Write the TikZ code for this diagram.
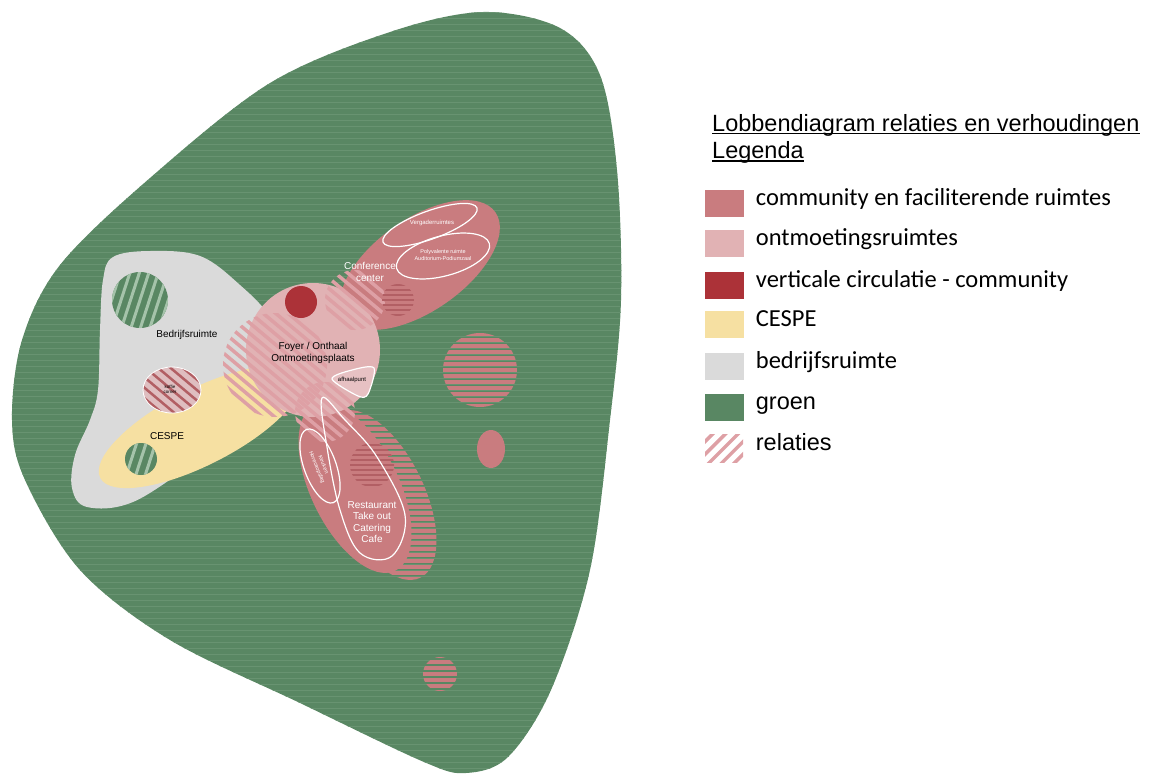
\documentclass[tikz,border=0pt]{standalone}
\usepackage{fontspec}
\setmainfont{Liberation Sans}
\newfontfamily\calibri{Carlito}
\usepackage{xcolor}
\usepackage{tikz}
\usetikzlibrary{positioning}

\definecolor{groen}{RGB}{89,135,99}
\definecolor{groenlicht}{RGB}{104,147,113}
\definecolor{groenstreep}{RGB}{165,195,170}
\definecolor{community}{RGB}{201,124,127}
\definecolor{communitydonker}{RGB}{178,95,100}
\definecolor{ontmoet}{RGB}{225,178,180}
\definecolor{vertcirc}{RGB}{172,50,56}
\definecolor{cespe}{RGB}{246,224,162}
\definecolor{bedrijf}{RGB}{218,218,218}
\definecolor{relatie}{RGB}{222,160,165}

\newcommand\groenvorm{plot[smooth cycle, tension=0.55] coordinates {(483,12) (560,28) (600,75) (617,170) (621,300) (610,420) (590,570) (551,690) (508,757) (466,773) (424,762) (300,703) (170,640) (80,570) (25,480) (12,420) (22,340) (60,265) (150,178) (270,83) (390,32)}}

% hatch: clip, centre, angle, line style, spacing
\newcommand\hatchfill[5]{%
  \begin{scope}
    #1
    \begin{scope}[shift={#2},rotate=#3]
      \foreach \k in {-15,...,15}
        \draw[#4] (-120,\k*#5) -- (120,\k*#5);
    \end{scope}
  \end{scope}}

\begin{document}
\begin{tikzpicture}[x=1pt,y=-1pt,
  wit/.style={draw=white, line width=1.2pt},
  rel/.style={relatie, line width=3.5pt},
  streep/.style={community, line width=3.5pt},
  donkerstreep/.style={communitydonker, line width=1.6pt},
  label/.style={align=center, inner sep=0pt, font=\fontsize{10}{11.5}\selectfont},
  klein/.style={align=center, inner sep=0pt, text=white, font=\fontsize{6}{7}\selectfont},
  swatch/.style={minimum width=39pt, minimum height=27pt, inner sep=0pt},
  kop/.style={anchor=base west, inner sep=0pt, font=\fontsize{23.5}{26}\selectfont},
  legtekst/.style={anchor=west, inner sep=0pt, text depth=0.25em, text height=0.75em, font=\calibri\fontsize{24.5}{27}\selectfont}]
\useasboundingbox (0,0) rectangle (1159,774);

% groen
\fill[groen] \groenvorm;
\begin{scope}
  \clip \groenvorm;
  \foreach \k in {0,...,129}
    \draw[groenlicht, line width=0.8pt] (0,\k*6) -- (680,\k*6);
\end{scope}

% bedrijfsruimte en CESPE
\fill[bedrijf] plot[smooth cycle, tension=0.6] coordinates {(113,257) (150,251) (200,256) (240,285) (272,320) (300,380) (280,415) (200,460) (133,502) (87,507) (72,488) (75,455) (90,420) (98,390) (100,330) (103,280)};
\fill[cespe, shift={(200,427)}, rotate=27] (0,0) ellipse [x radius=112, y radius=38];

\fill[groen] (140,300) circle [radius=28];
\hatchfill{\clip (140,300) circle [radius=28];}{(140,300)}{72}{groenstreep, line width=3pt}{9}
\fill[groen] (141,459) circle [radius=16];
\hatchfill{\clip (141,459) circle [radius=16];}{(141,459)}{72}{groenstreep, line width=3pt}{9}

\fill[ontmoet!70!bedrijf] (172,390) ellipse [x radius=29, y radius=23];
\hatchfill{\clip (172,390) ellipse [x radius=29, y radius=23];}{(172,390)}{-40}{communitydonker, line width=2.5pt}{8}
\draw[white, line width=0.8pt] (172,390) ellipse [x radius=29, y radius=23];

% lobben
\fill[community, shift={(420,265)}, rotate=35] (0,0) ellipse [x radius=92, y radius=46];
\hatchfill{\clip[shift={(380,495)}, rotate=-64] (0,0) ellipse [x radius=92, y radius=44];}{(380,495)}{0}{streep}{6}
\fill[community, shift={(355,488)}, rotate=-64] (0,0) ellipse [x radius=92, y radius=44];
\fill[ontmoet] (313,350) circle [radius=67];

% relaties
\hatchfill{\clip (275,365) circle [radius=52];}{(275,365)}{-40}{rel}{8}
\hatchfill{\clip (355,300) circle [radius=30];}{(355,300)}{-40}{rel}{8}
\hatchfill{\clip (325,412) circle [radius=30];}{(325,412)}{-40}{rel}{8}
\hatchfill{\clip (398,300) circle [radius=16];}{(398,300)}{0}{donkerstreep}{5}
\hatchfill{\clip (372,465) circle [radius=22];}{(372,465)}{0}{donkerstreep}{5}

\fill[vertcirc] (301,302) circle [radius=16];

% omlijningen
\draw[wit, shift={(430,225)}, rotate=20] (0,0) ellipse [x radius=50, y radius=14];
\draw[wit, shift={(443,256)}, rotate=15] (0,0) ellipse [x radius=48, y radius=20];
\draw[wit, shift={(320,466)}, rotate=-70] (0,0) ellipse [x radius=39, y radius=16];
\draw[wit] plot[smooth cycle, tension=0.6] coordinates {(322,398) (345,420) (377,457) (405,515) (392,556) (360,553) (340,510) (327,447)};
\draw[wit, fill=ontmoet!80!white] plot[smooth cycle, tension=0.5] coordinates {(332,379) (352,370) (374,368) (368,394) (358,396)};

% losse lobben in het groen
\hatchfill{\clip (480,370) circle [radius=37];}{(480,370)}{0}{streep}{6}
\fill[community] (491,449) ellipse [x radius=14, y radius=19];
\hatchfill{\clip (440,674) circle [radius=17];}{(440,674)}{0}{streep}{6}

% teksten
\node[label] (bedrijfsruimte) at (187,335) {Bedrijfsruimte};
\node[label] (cespe) at (167,436) {CESPE};
\node[label] (foyer) at (313,353) {Foyer / Onthaal\\Ontmoetingsplaats};
\node[label, text=white] (conference) at (370,272) {Conference\\center};
\node[label, text=white] (restaurant) at (372,522) {Restaurant\\Take out\\Catering\\Cafe};
\node[klein] (vergader) at (432,223) {Vergaderruimtes};
\node[klein, font=\fontsize{5.5}{6.5}\selectfont] (polyvalent) at (443,255) {Polyvalente ruimte\\Auditorium-Podiumzaal};
\node[klein, rotate=-68, font=\fontsize{5.5}{7}\selectfont] (horeca) at (320,466) {Keuken\\Horecaopslag};
\node[klein, text=black] (afhaal) at (352,380) {afhaalpunt};
\node[klein, text=black, font=\fontsize{4.5}{5}\selectfont] (koffie) at (170,389) {koffie\\corner};

% legenda
\node[kop] (titel) at (712,131) {Lobbendiagram relaties en verhoudingen};
\node[kop] (legenda) at (712,158) {Legenda};
\draw[line width=1.2pt] ([yshift=-2.5pt]titel.base west) -- ([yshift=-2.5pt]titel.base east);
\draw[line width=1.2pt] ([yshift=-3pt]legenda.base west) -- ([yshift=-3pt]legenda.base east);

\node[swatch, fill=community] (sw1) at (724,203) {};
\node[swatch, fill=ontmoet] (sw2) at (724,243) {};
\node[swatch, fill=vertcirc] (sw3) at (724,285) {};
\node[swatch, fill=cespe] (sw4) at (724,324) {};
\node[swatch, fill=bedrijf] (sw5) at (724,366) {};
\node[swatch, fill=groen] (sw6) at (724,407) {};
\node[swatch] (sw7) at (724,448) {};
\hatchfill{\clip (705,434) rectangle (743,462);}{(724,448)}{45}{rel}{9}

\node[legtekst, right=12pt of sw1] (t1) {community en faciliterende ruimtes};
\node[legtekst, right=12pt of sw2] (t2) {ontmoetingsruimtes};
\node[legtekst, right=12pt of sw3] (t3) {verticale circulatie - community};
\node[legtekst, right=12pt of sw4] (t4) {CESPE};
\node[legtekst, right=12pt of sw5] (t5) {bedrijfsruimte};
\node[legtekst, right=12pt of sw6, font=\fontsize{23.5}{26}\selectfont] (t6) {groen};
\node[legtekst, right=12pt of sw7, font=\fontsize{23.5}{26}\selectfont] (t7) {relaties};
\end{tikzpicture}
\end{document}
